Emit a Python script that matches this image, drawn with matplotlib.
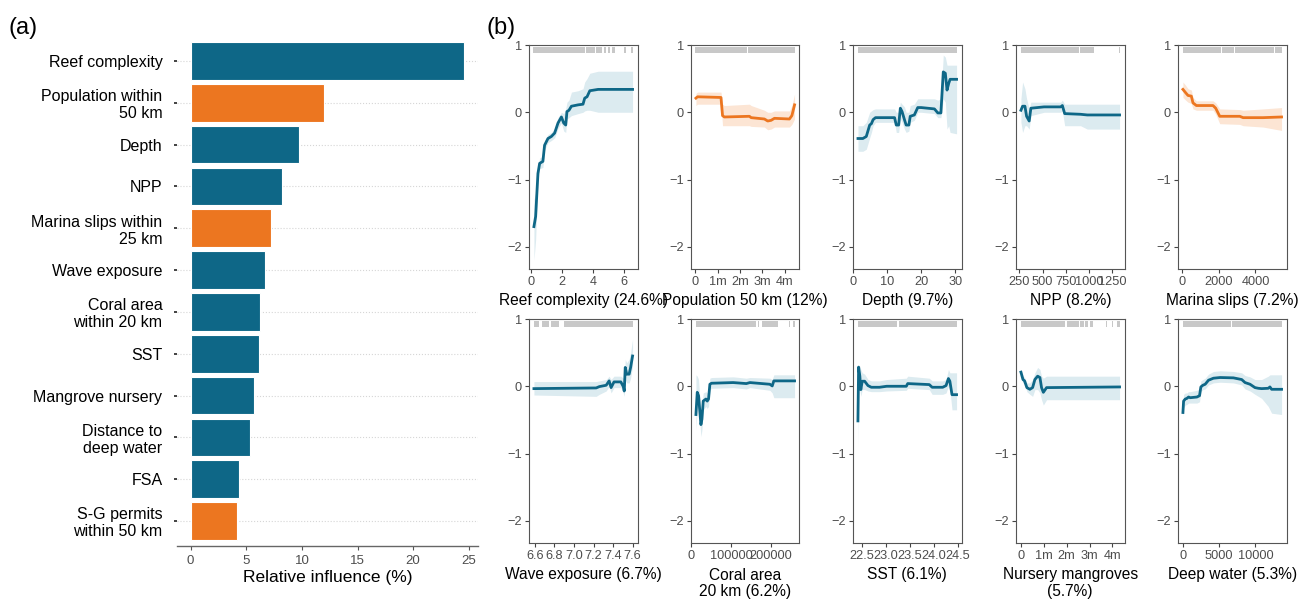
import numpy as np
import matplotlib
matplotlib.use('Agg')
import matplotlib.pyplot as plt

plt.rcParams['font.family'] = ['Liberation Sans', 'DejaVu Sans']

TEAL = '#0e6787'
ORANGE = '#ec7620'
TEAL_BAND = '#dcebf0'
ORANGE_BAND = '#fce5d4'
RUG = '#c8c8c8'
TICK_GREY = '#4d4d4d'

# (a) relative influence
labels = ['Reef complexity', 'Population within\n50 km', 'Depth', 'NPP',
          'Marina slips within\n25 km', 'Wave exposure', 'Coral area\nwithin 20 km',
          'SST', 'Mangrove nursery', 'Distance to\ndeep water', 'FSA',
          'S-G permits\nwithin 50 km']
influence = [24.6, 12.0, 9.7, 8.2, 7.2, 6.7, 6.2, 6.1, 5.7, 5.3, 4.3, 4.2]
human = [False, True, False, False, True, False, False, False, False, False, False, True]

# (b) partial dependence curves
reef_x = [0.17, 0.28, 0.43, 0.54, 0.75, 0.86, 1.08, 1.30, 1.51, 1.73, 1.95, 2.10, 2.23, 2.31, 2.44, 2.60, 3.03, 3.35, 3.46, 3.61, 3.79, 4.33, 6.56]
reef_y = [-1.70, -1.55, -0.91, -0.76, -0.73, -0.49, -0.39, -0.36, -0.31, -0.16, -0.07, -0.16, -0.19, 0.01, 0.03, 0.09, 0.11, 0.12, 0.21, 0.23, 0.32, 0.34, 0.34]
reef_hi = [-1.3, -1.2, -0.8, -0.68, -0.65, -0.42, -0.33, -0.3, -0.24, -0.08, 0.0, -0.02, 0.05, 0.15, 0.18, 0.3, 0.32, 0.35, 0.45, 0.5, 0.58, 0.61, 0.61]
reef_lo = [-2.2, -1.9, -1.0, -0.84, -0.82, -0.56, -0.45, -0.42, -0.38, -0.24, -0.16, -0.28, -0.3, -0.1, -0.08, -0.05, -0.02, 0.0, 0.02, 0.03, 0.03, 0.0, 0.0]
reef_rug = [(0.11, 3.46), (3.52, 4.11), (4.2, 4.55), (4.69, 4.82), (4.98, 5.08), (5.23, 5.41), (6.0, 6.15), (6.48, 6.56)]

pop_x = [0.03, 0.10, 1.15, 1.22, 1.30, 2.42, 2.50, 3.09, 3.24, 3.39, 3.54, 4.21, 4.32, 4.44]
pop_y = [0.21, 0.23, 0.22, -0.05, -0.07, -0.06, -0.08, -0.10, -0.13, -0.12, -0.09, -0.10, -0.05, 0.11]
pop_hi = [0.28, 0.3, 0.3, 0.12, 0.1, 0.12, 0.1, 0.03, 0.0, 0.0, 0.02, 0.02, 0.1, 0.27]
pop_lo = [0.1, 0.12, 0.12, -0.2, -0.2, -0.2, -0.21, -0.22, -0.26, -0.25, -0.22, -0.22, -0.18, -0.1]
pop_rug = [(0.0, 0.46), (0.5, 2.33), (2.37, 4.45)]

depth_x = [1.46, 2.9, 3.9, 4.9, 5.4, 5.9, 6.6, 12.2, 12.7, 13.4, 13.9, 14.4, 15.1, 15.6, 16.4, 16.8, 18.0, 19.0, 20.0, 23.9, 24.9, 25.8, 26.5, 27.1, 27.6, 28.1, 28.5, 30.4]
depth_y = [-0.39, -0.39, -0.36, -0.19, -0.17, -0.11, -0.08, -0.08, -0.19, -0.19, 0.06, 0.01, -0.11, -0.19, -0.19, -0.06, -0.04, 0.07, 0.07, 0.05, -0.01, -0.01, 0.60, 0.58, 0.33, 0.43, 0.49, 0.49]
depth_hi = [-0.2, -0.2, -0.15, 0.0, 0.02, 0.04, 0.05, 0.05, 0.0, 0.0, 0.15, 0.12, 0.08, 0.0, 0.0, 0.1, 0.12, 0.2, 0.2, 0.2, 0.18, 0.2, 0.85, 0.82, 0.7, 0.7, 0.7, 0.7]
depth_lo = [-0.58, -0.58, -0.55, -0.38, -0.3, -0.2, -0.15, -0.15, -0.3, -0.3, -0.1, -0.15, -0.25, -0.3, -0.28, -0.15, -0.12, 0.0, 0.0, -0.02, -0.08, -0.08, 0.2, 0.15, -0.25, -0.2, -0.3, -0.32]
depth_rug = [(1.46, 30.4)]

npp_x = [266, 284, 309, 327, 355, 373, 515, 694, 712, 737, 908, 980, 1328]
npp_y = [0.03, 0.09, 0.09, -0.06, -0.13, 0.06, 0.08, 0.08, 0.10, -0.02, -0.03, -0.04, -0.04]
npp_hi = [0.2, 0.45, 0.35, 0.2, 0.05, 0.15, 0.15, 0.15, 0.18, 0.12, 0.12, 0.12, 0.12]
npp_lo = [-0.15, -0.3, -0.2, -0.2, -0.25, -0.05, 0.0, 0.0, 0.02, -0.2, -0.2, -0.25, -0.25]
npp_rug = [(266, 801), (808, 890), (905, 1050), (1320, 1328)]

marina_x = [30, 180, 307, 490, 580, 765, 1677, 1825, 2045, 3140, 3325, 4420, 5430]
marina_y = [0.34, 0.29, 0.25, 0.24, 0.14, 0.10, 0.10, 0.06, -0.06, -0.06, -0.08, -0.08, -0.07]
marina_hi = [0.45, 0.4, 0.35, 0.33, 0.22, 0.17, 0.17, 0.14, 0.05, 0.04, 0.03, 0.05, 0.07]
marina_lo = [0.22, 0.18, 0.15, 0.13, 0.05, 0.03, 0.03, -0.03, -0.17, -0.18, -0.2, -0.22, -0.27]
marina_rug = [(30, 2120), (2160, 2850), (2890, 5040), (5080, 5230), (5260, 5430)]

wave_x = [6.59, 7.227, 7.26, 7.33, 7.36, 7.38, 7.41, 7.48, 7.505, 7.515, 7.525, 7.54, 7.565, 7.58, 7.6]
wave_y = [-0.035, -0.025, -0.005, 0.015, 0.08, -0.02, 0.065, 0.065, -0.005, -0.07, 0.28, 0.18, 0.18, 0.28, 0.45]
wave_hi = [0.07, 0.07, 0.08, 0.1, 0.15, 0.1, 0.15, 0.15, 0.12, 0.1, 0.4, 0.35, 0.4, 0.5, 0.7]
wave_lo = [-0.13, -0.15, -0.12, -0.07, 0.0, -0.1, -0.02, -0.02, -0.1, -0.15, 0.1, 0.05, 0.05, 0.12, 0.3]
wave_rug = [(6.59, 6.64), (6.67, 6.74), (6.76, 6.85), (6.9, 7.6)]

coral_x = [11700, 15000, 18300, 21700, 24200, 26700, 30000, 36700, 40000, 43300, 46700, 50800, 105000, 138000, 147000, 197000, 203000, 207000, 259000]
coral_y = [-0.42, -0.09, -0.14, -0.39, -0.57, -0.49, -0.22, -0.19, -0.22, -0.19, 0.03, 0.045, 0.055, 0.04, 0.055, 0.03, 0.005, 0.08, 0.08]
coral_hi = [0.17, 0.15, 0.1, -0.2, -0.35, -0.3, -0.1, -0.08, -0.1, -0.08, 0.12, 0.13, 0.14, 0.12, 0.13, 0.12, 0.1, 0.17, 0.17]
coral_lo = [-0.65, -0.3, -0.35, -0.55, -0.75, -0.65, -0.35, -0.3, -0.33, -0.3, -0.05, -0.03, -0.02, -0.04, -0.02, -0.06, -0.1, -0.17, -0.17]
coral_rug = [(11700, 163000), (168000, 170000), (178000, 217000), (245000, 247000), (256000, 259000)]

sst_x = [22.41, 22.424, 22.45, 22.47, 22.5, 22.55, 22.62, 22.69, 22.86, 23.01, 23.42, 23.45, 23.9, 23.96, 24.18, 24.25, 24.3, 24.33, 24.375, 24.47]
sst_y = [-0.515, 0.285, 0.15, -0.05, 0.075, 0.075, 0.01, -0.015, -0.015, 0.0, 0.0, 0.04, 0.025, -0.015, -0.015, 0.01, 0.115, 0.075, -0.125, -0.125]
sst_hi = [-0.1, 0.3, 0.3, 0.25, 0.2, 0.18, 0.1, 0.08, 0.08, 0.1, 0.12, 0.15, 0.12, 0.08, 0.08, 0.1, 0.25, 0.2, 0.2, 0.2]
sst_lo = [-0.9, 0.05, -0.05, -0.15, -0.05, -0.05, -0.07, -0.08, -0.08, -0.07, -0.06, -0.03, -0.05, -0.12, -0.12, -0.1, 0.0, -0.05, -0.35, -0.35]
sst_rug = [(22.41, 23.23), (23.27, 24.47)]

mang_x = [0.0, 0.09, 0.16, 0.26, 0.39, 0.51, 0.61, 0.73, 0.83, 0.9, 0.98, 1.12, 4.31]
mang_y = [0.21, 0.10, 0.08, -0.02, -0.045, -0.02, 0.10, 0.15, 0.13, -0.02, -0.09, -0.02, -0.01]
mang_hi = [0.25, 0.15, 0.13, 0.05, 0.05, 0.1, 0.2, 0.28, 0.25, 0.15, 0.12, 0.15, 0.15]
mang_lo = [0.15, 0.05, 0.03, -0.08, -0.12, -0.15, -0.05, -0.05, -0.1, -0.2, -0.28, -0.2, -0.2]
mang_rug = [(0.0, 1.93), (2.0, 2.55), (2.6, 2.75), (2.8, 2.95), (3.0, 3.17), (3.72, 3.78), (3.97, 4.02), (4.2, 4.31)]

deep_x = [0, 92, 321, 550, 780, 1009, 1927, 2294, 2477, 2752, 3073, 3532, 4220, 5138, 6972, 8119, 8578, 9266, 9954, 10413, 10872, 11789, 12018, 12248, 13624]
deep_y = [-0.39, -0.22, -0.19, -0.18, -0.16, -0.17, -0.16, -0.14, -0.01, 0.015, 0.03, 0.09, 0.12, 0.13, 0.125, 0.10, 0.055, 0.03, -0.02, -0.03, -0.035, -0.03, -0.01, -0.045, -0.045]
deep_hi = [-0.25, -0.12, -0.1, -0.1, -0.08, -0.08, -0.06, -0.04, 0.08, 0.1, 0.12, 0.18, 0.22, 0.23, 0.22, 0.2, 0.16, 0.14, 0.1, 0.1, 0.1, 0.15, 0.17, 0.17, 0.17]
deep_lo = [-0.45, -0.32, -0.28, -0.27, -0.25, -0.25, -0.25, -0.23, -0.08, -0.05, -0.04, 0.02, 0.05, 0.06, 0.05, 0.02, -0.04, -0.07, -0.12, -0.15, -0.18, -0.3, -0.35, -0.4, -0.42]
deep_rug = [(0, 6700), (6780, 13624)]

titles = ['Reef complexity (24.6%)', 'Population 50 km (12%)', 'Depth (9.7%)',
          'NPP (8.2%)', 'Marina slips (7.2%)', 'Wave exposure (6.7%)',
          'Coral area\n20 km (6.2%)', 'SST (6.1%)', 'Nursery mangroves\n(5.7%)',
          'Deep water (5.3%)']

panels = [
    (reef_x, reef_y, reef_lo, reef_hi, reef_rug, False, [0, 2, 4, 6], ['0', '2', '4', '6']),
    (pop_x, pop_y, pop_lo, pop_hi, pop_rug, True, [0, 1, 2, 3, 4], ['0', '1m', '2m', '3m', '4m']),
    (depth_x, depth_y, depth_lo, depth_hi, depth_rug, False, [0, 10, 20, 30], ['0', '10', '20', '30']),
    (npp_x, npp_y, npp_lo, npp_hi, npp_rug, False, [250, 500, 750, 1000, 1250], ['250', '500', '750', '1000', '1250']),
    (marina_x, marina_y, marina_lo, marina_hi, marina_rug, True, [0, 2000, 4000], ['0', '2000', '4000']),
    (wave_x, wave_y, wave_lo, wave_hi, wave_rug, False, [6.6, 6.8, 7.0, 7.2, 7.4, 7.6], ['6.6', '6.8', '7.0', '7.2', '7.4', '7.6']),
    (coral_x, coral_y, coral_lo, coral_hi, coral_rug, False, [0, 100000, 200000], ['0', '100000', '200000']),
    (sst_x, sst_y, sst_lo, sst_hi, sst_rug, False, [22.5, 23.0, 23.5, 24.0, 24.5], ['22.5', '23.0', '23.5', '24.0', '24.5']),
    (mang_x, mang_y, mang_lo, mang_hi, mang_rug, False, [0, 1, 2, 3, 4], ['0', '1m', '2m', '3m', '4m']),
    (deep_x, deep_y, deep_lo, deep_hi, deep_rug, False, [0, 5000, 10000], ['0', '5000', '10000']),
]

W, H = 1307, 600
fig = plt.figure(figsize=(W / 100, H / 100), dpi=100)

# ---- (a) bar chart ----
ax = fig.add_axes([177 / W, 54 / H, 301 / W, 510 / H])
pos = np.arange(len(labels))[::-1] + 1
cols = [ORANGE if h else TEAL for h in human]
ax.barh(pos, influence, height=0.9, color=cols, edgecolor='white', linewidth=0.8, zorder=2)
for p in pos:
    ax.axhline(p, color='#d6d6d6', linestyle=':', linewidth=0.8, zorder=1)
ax.set_ylim(0.4, 12.6)
ax.set_xlim(-1.23, 25.83)
ax.set_yticks(pos)
ax.set_yticklabels(labels, fontsize=11.5, color='black', linespacing=1.15)
ax.set_xticks([0, 5, 10, 15, 20, 25])
ax.tick_params(axis='x', labelsize=9.5, labelcolor=TICK_GREY, color='#555555', length=3, width=0.8)
ax.tick_params(axis='y', length=2.5, width=1.2, color='#222222', pad=8)
for s in ['left', 'right', 'top']:
    ax.spines[s].set_visible(False)
ax.spines['bottom'].set_color('#666666')
ax.spines['bottom'].set_linewidth(1.0)
ax.set_xlabel('Relative influence (%)', fontsize=12.5, labelpad=2)
fig.text(8 / W, 1 - 28 / H, '(a)', fontsize=17, va='center', ha='left')
fig.text(487 / W, 1 - 28 / H, '(b)', fontsize=17, va='center', ha='left')

# ---- (b) partial dependence panels ----
lefts = [529, 691, 853, 1016, 1178]
tops = [45, 319]
pw, ph = 108.5, 224
for i, (x, y, lo, hi, rug, is_h, ticks, tlabels) in enumerate(panels):
    r, c = divmod(i, 5)
    a = fig.add_axes([lefts[c] / W, 1 - (tops[r] + ph) / H, pw / W, ph / H])
    line_c = ORANGE if is_h else TEAL
    band_c = ORANGE_BAND if is_h else TEAL_BAND
    a.fill_between(x, lo, hi, color=band_c, linewidth=0, zorder=1)
    a.plot(x, y, color=line_c, linewidth=2.0, solid_joinstyle='round', zorder=3)
    a.broken_barh([(s, e - s) for s, e in rug], (0.885, 0.09), facecolors=RUG, zorder=2)
    span = x[-1] - x[0]
    a.set_xlim(x[0] - 0.05 * span, x[-1] + 0.05 * span)
    a.set_ylim(-2.33, 1.0)
    a.set_yticks([1, 0, -1, -2])
    a.set_xticks(ticks)
    a.set_xticklabels(tlabels)
    a.tick_params(labelsize=9.2, labelcolor=TICK_GREY, color='#444444', length=3, width=0.8, pad=2)
    for s in a.spines.values():
        s.set_color('#555555')
        s.set_linewidth(0.8)
    a.set_xlabel(titles[i], fontsize=11.2, labelpad=4, linespacing=1.1)

fig.savefig('out.png', dpi=100)
